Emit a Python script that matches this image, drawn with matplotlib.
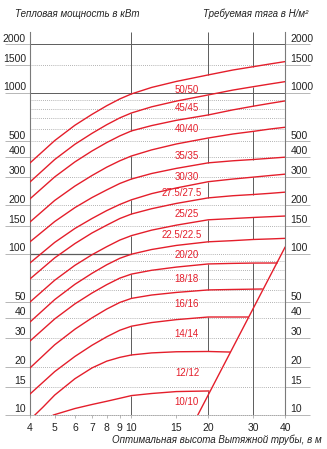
import numpy as np
import matplotlib.pyplot as plt
from matplotlib.ticker import FixedLocator, FixedFormatter, NullLocator

plt.rcParams['font.family'] = ['Liberation Sans Narrow', 'Liberation Sans', 'DejaVu Sans']

RED = '#e41e2b'
GRID = '#9a9a9a'
DARK = '#5c5c5c'

# --- данные ---
x_std = [4, 5, 6, 7, 8, 9, 10, 12, 15, 20, 25, 30, 35, 40]

y_50 = [367.5, 506, 630, 736, 833, 918, 986, 1082, 1179, 1294, 1388, 1455, 1514, 1565]
y_45 = [280, 386, 480, 561, 635, 700, 751, 820, 890, 972, 1042, 1093, 1137, 1175]
y_40 = [220, 301, 373, 436, 492, 541, 581, 627, 676, 730, 785, 827, 862, 892]
y_35 = [158, 215, 264, 307, 346, 379, 406, 443, 482, 525, 556, 577, 597, 612]
y_30 = [119, 159, 194, 224, 250, 274, 292, 316, 340, 368, 379, 386, 393, 399]
y_275 = [88, 118, 144, 166, 186, 203, 217, 237, 257, 281, 292, 300, 307, 313]
y_25 = [70, 94.6, 116, 135, 151, 166, 177, 191, 206, 223, 230, 234, 238, 242]
y_225 = [50.3, 68.7, 85, 98.9, 111, 122, 130, 140.6, 151, 163, 166, 168.5, 170.4, 172]
y_20 = [37.8, 52.1, 64.8, 75.8, 85.7, 94, 99.7, 106.6, 113, 119, 121, 123, 124, 125]

x_18 = [4, 5, 6, 7, 8, 9, 10, 12, 15, 20, 25, 30, 37.2]
y_18 = [28.8, 39.5, 49, 57.2, 64.5, 70.8, 75, 79.2, 82.9, 86.7, 87.4, 87.8, 87.9]
x_16 = [4, 5, 6, 7, 8, 9, 10, 12, 15, 20, 25, 32.5]
y_16 = [19.6, 27.3, 34.1, 40.1, 45.5, 50, 53, 55.6, 57.7, 59.8, 60.2, 60.6]
x_14 = [4, 5, 6, 7, 8, 9, 10, 12, 15, 20, 28.6]
y_14 = [13.5, 18.6, 23.1, 27.1, 30.6, 33.6, 35.6, 37.5, 39.1, 40.6, 40.6]
x_12 = [4.18, 4.5, 5, 6, 7, 8, 9, 10, 12, 15, 20, 24.3]
y_12 = [10, 11.2, 13.3, 16.8, 19.6, 21.6, 22.8, 23.6, 24.3, 24.7, 24.8, 24.6]
x_10 = [4.94, 6, 7, 8, 9, 10, 12, 15, 20.1]
y_10 = [10, 10.97, 11.62, 12.17, 12.7, 13.2, 13.6, 13.98, 14.1]

# линия требуемой тяги (граница справа)
draft_x = [18.2, 40]
draft_y = [10, 110]

curve_names = ['50/50', '45/45', '40/40', '35/35', '30/30', '27.5/27.5', '25/25',
               '22.5/22.5', '20/20', '18/18', '16/16', '14/14', '12/12', '10/10']
curve_x = [x_std] * 9 + [x_18, x_16, x_14, x_12, x_10]
curve_y = [y_50, y_45, y_40, y_35, y_30, y_275, y_25, y_225, y_20, y_18, y_16, y_14, y_12, y_10]

label_x = [16.5, 16.5, 16.5, 16.5, 16.5, 15.8, 16.5, 15.8, 16.5, 16.5, 16.5, 16.5, 16.6, 16.5]
label_y = [1044, 807, 598, 406, 301, 239, 177, 131, 98.6, 69.9, 48.9, 31.9, 18.2, 12.0]

y_ticks = [10, 15, 20, 30, 40, 50, 100, 150, 200, 300, 400, 500, 1000, 1500, 2000]
dotted_levels = [15, 20, 30, 40, 50, 60, 70, 80, 90, 150, 200, 300, 400, 500,
                 600, 700, 800, 900, 1500]
x_ticks = [4, 5, 6, 7, 8, 9, 10, 15, 20, 30, 40]
grid_x = [10, 20, 30]

# полосы, в которых вертикальные линии сетки не видны
hidden_pairs = [(0, 1), (2, 3), (4, 5), (6, 7), (8, 9), (10, 11), (12, 13)]

YMIN, YMAX = 10, 2390


def value_at(i, xv):
    xs, ys = curve_x[i], curve_y[i]
    if xv < xs[0] or xv > xs[-1]:
        return None
    return 10 ** np.interp(np.log10(xv), np.log10(xs), np.log10(ys))


fig = plt.figure(figsize=(3.27, 4.49), dpi=100)
ax = fig.add_axes([30 / 327, 34 / 449, 255 / 327, 383 / 449])
ax.set_xscale('log')
ax.set_yscale('log')
ax.set_xlim(4, 40)
ax.set_ylim(YMIN, YMAX)

# горизонтальная сетка
for v in dotted_levels:
    ax.axhline(v, color=GRID, lw=0.6, ls=(0, (1, 1.5)), zorder=1)
ax.axhline(1000, color=DARK, lw=0.7, zorder=1)
ax.axhline(2000, color=DARK, lw=0.7, zorder=1)
ax.plot([4, 10], [100, 100], color=DARK, lw=0.9, zorder=1)
ax.plot([10, 40], [100, 100], color=GRID, lw=0.6, ls=(0, (1, 1.5)), zorder=1)

# вертикальная сетка (с разрывами по полосам)
for xv in grid_x:
    hidden = []
    for up, lo in hidden_pairs:
        yu, yl = value_at(up, xv), value_at(lo, xv)
        if yu is None or yl is None:
            continue
        hidden.append((yl, yu))
    hidden.sort()
    y0 = YMIN
    for lo, hi in hidden:
        ax.vlines(xv, y0, lo, color=DARK, lw=0.7, zorder=1)
        y0 = hi
    ax.vlines(xv, y0, YMAX, color=DARK, lw=0.7, zorder=1)

# кривые
for xs, ys in zip(curve_x, curve_y):
    ax.plot(xs, ys, color=RED, lw=1.0, zorder=3, solid_joinstyle='round')
ax.plot(draft_x, draft_y, color=RED, lw=1.0, zorder=3)

for name, lx, ly in zip(curve_names, label_x, label_y):
    ax.text(lx, ly, name, color=RED, fontsize=7, ha='center', va='center', zorder=4)

# оси
ax.spines['top'].set_visible(False)
ax.spines['bottom'].set_color(GRID)
ax.spines['bottom'].set_linestyle((0, (1, 1.5)))
ax.spines['bottom'].set_linewidth(0.6)
for s in ['left', 'right']:
    ax.spines[s].set_color('#7a7a7a')
    ax.spines[s].set_linewidth(0.8)

ax.yaxis.set_major_locator(FixedLocator(y_ticks))
ax.yaxis.set_minor_locator(NullLocator())
ax.tick_params(axis='y', which='major', left=True, right=True, length=18, width=0.5,
               color=GRID, labelleft=False, labelright=False)
for v in y_ticks:
    ax.annotate(str(v), xy=(0, v), xycoords=('axes fraction', 'data'), xytext=(-3, 0.5),
                textcoords='offset points', ha='right', va='bottom', fontsize=7.5, color='#222222')
    ax.annotate(str(v), xy=(1, v), xycoords=('axes fraction', 'data'), xytext=(4, 0.5),
                textcoords='offset points', ha='left', va='bottom', fontsize=7.5, color='#222222')

ax.xaxis.set_major_locator(FixedLocator(x_ticks))
ax.xaxis.set_major_formatter(FixedFormatter([str(t) for t in x_ticks]))
ax.xaxis.set_minor_locator(NullLocator())
ax.tick_params(axis='x', which='major', length=2.5, width=0.5, color=GRID,
               labelsize=7.5, pad=3, labelcolor='#222222')

fig.text(15 / 327, 1 - 14 / 449, 'Тепловая мощность в кВт', fontsize=7, style='italic',
         ha='left', va='center', color='#222222')
fig.text(308 / 327, 1 - 14 / 449, 'Требуемая тяга в Н/м²', fontsize=7, style='italic',
         ha='right', va='center', color='#222222')
fig.text(322 / 327, 1 - 440 / 449, 'Оптимальная высота Вытяжной трубы, в м', fontsize=7,
         style='italic', ha='right', va='center', color='#222222')

fig.savefig('out.png', dpi=100)
